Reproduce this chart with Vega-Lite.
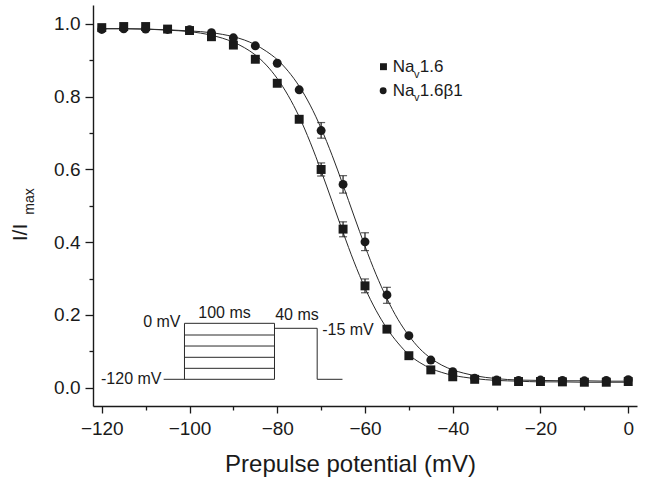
{
  "$schema": "https://vega.github.io/schema/vega-lite/v6.json",
  "width": 544,
  "height": 401,
  "autosize": {"type": "none"},
  "padding": {"left": 93, "top": 5, "right": 8, "bottom": 77},
  "background": "white",
  "config": {
    "view": {"stroke": null},
    "font": "Liberation Sans",
    "text": {"font": "Liberation Sans", "color": "#1a1a1a"}
  },
  "datasets": {
    "pts": [
      {"V": -120, "I": 0.990, "series": "Nav1.6"}, {"V": -115, "I": 0.993, "series": "Nav1.6"}, {"V": -110, "I": 0.993, "series": "Nav1.6"}, {"V": -105, "I": 0.986, "series": "Nav1.6"}, {"V": -100, "I": 0.982, "series": "Nav1.6"},
      {"V": -95, "I": 0.965, "series": "Nav1.6"}, {"V": -90, "I": 0.942, "series": "Nav1.6"}, {"V": -85, "I": 0.903, "series": "Nav1.6"}, {"V": -80, "I": 0.837, "series": "Nav1.6"}, {"V": -75, "I": 0.738, "series": "Nav1.6"},
      {"V": -70, "I": 0.600, "series": "Nav1.6"}, {"V": -65, "I": 0.436, "series": "Nav1.6"}, {"V": -60, "I": 0.280, "series": "Nav1.6"}, {"V": -55, "I": 0.161, "series": "Nav1.6"}, {"V": -50, "I": 0.088, "series": "Nav1.6"},
      {"V": -45, "I": 0.049, "series": "Nav1.6"}, {"V": -40, "I": 0.030, "series": "Nav1.6"}, {"V": -35, "I": 0.023, "series": "Nav1.6"}, {"V": -30, "I": 0.018, "series": "Nav1.6"}, {"V": -25, "I": 0.017, "series": "Nav1.6"},
      {"V": -20, "I": 0.017, "series": "Nav1.6"}, {"V": -15, "I": 0.016, "series": "Nav1.6"}, {"V": -10, "I": 0.015, "series": "Nav1.6"}, {"V": -5, "I": 0.015, "series": "Nav1.6"}, {"V": 0, "I": 0.017, "series": "Nav1.6"},
      {"V": -120, "I": 0.985, "series": "Nav1.6β1"}, {"V": -115, "I": 0.987, "series": "Nav1.6β1"}, {"V": -110, "I": 0.986, "series": "Nav1.6β1"}, {"V": -105, "I": 0.985, "series": "Nav1.6β1"}, {"V": -100, "I": 0.984, "series": "Nav1.6β1"},
      {"V": -95, "I": 0.976, "series": "Nav1.6β1"}, {"V": -90, "I": 0.962, "series": "Nav1.6β1"}, {"V": -85, "I": 0.940, "series": "Nav1.6β1"}, {"V": -80, "I": 0.892, "series": "Nav1.6β1"}, {"V": -75, "I": 0.819, "series": "Nav1.6β1"},
      {"V": -70, "I": 0.707, "series": "Nav1.6β1"}, {"V": -65, "I": 0.559, "series": "Nav1.6β1"}, {"V": -60, "I": 0.401, "series": "Nav1.6β1"}, {"V": -55, "I": 0.255, "series": "Nav1.6β1"}, {"V": -50, "I": 0.143, "series": "Nav1.6β1"},
      {"V": -45, "I": 0.076, "series": "Nav1.6β1"}, {"V": -40, "I": 0.044, "series": "Nav1.6β1"}, {"V": -35, "I": 0.026, "series": "Nav1.6β1"}, {"V": -30, "I": 0.021, "series": "Nav1.6β1"}, {"V": -25, "I": 0.020, "series": "Nav1.6β1"},
      {"V": -20, "I": 0.021, "series": "Nav1.6β1"}, {"V": -15, "I": 0.020, "series": "Nav1.6β1"}, {"V": -10, "I": 0.019, "series": "Nav1.6β1"}, {"V": -5, "I": 0.020, "series": "Nav1.6β1"}, {"V": 0, "I": 0.022, "series": "Nav1.6β1"}
    ],
    "fit": [
      {"V": -120, "I": 0.987, "series": "Nav1.6"}, {"V": -115, "I": 0.987, "series": "Nav1.6"}, {"V": -110, "I": 0.986, "series": "Nav1.6"}, {"V": -105, "I": 0.983, "series": "Nav1.6"}, {"V": -100, "I": 0.979, "series": "Nav1.6"},
      {"V": -95, "I": 0.969, "series": "Nav1.6"}, {"V": -90, "I": 0.950, "series": "Nav1.6"}, {"V": -87.5, "I": 0.935, "series": "Nav1.6"}, {"V": -85, "I": 0.915, "series": "Nav1.6"}, {"V": -82.5, "I": 0.887, "series": "Nav1.6"},
      {"V": -80, "I": 0.850, "series": "Nav1.6"}, {"V": -77.5, "I": 0.803, "series": "Nav1.6"}, {"V": -75, "I": 0.745, "series": "Nav1.6"}, {"V": -72.5, "I": 0.675, "series": "Nav1.6"}, {"V": -70, "I": 0.596, "series": "Nav1.6"},
      {"V": -67.5, "I": 0.512, "series": "Nav1.6"}, {"V": -65, "I": 0.427, "series": "Nav1.6"}, {"V": -62.5, "I": 0.346, "series": "Nav1.6"}, {"V": -60, "I": 0.274, "series": "Nav1.6"}, {"V": -57.5, "I": 0.213, "series": "Nav1.6"},
      {"V": -55, "I": 0.163, "series": "Nav1.6"}, {"V": -52.5, "I": 0.123, "series": "Nav1.6"}, {"V": -50, "I": 0.091, "series": "Nav1.6"}, {"V": -47.5, "I": 0.069, "series": "Nav1.6"}, {"V": -45, "I": 0.053, "series": "Nav1.6"},
      {"V": -42.5, "I": 0.042, "series": "Nav1.6"}, {"V": -40, "I": 0.034, "series": "Nav1.6"}, {"V": -37.5, "I": 0.029, "series": "Nav1.6"}, {"V": -35, "I": 0.025, "series": "Nav1.6"}, {"V": -30, "I": 0.020, "series": "Nav1.6"},
      {"V": -25, "I": 0.018, "series": "Nav1.6"}, {"V": -20, "I": 0.016, "series": "Nav1.6"}, {"V": -15, "I": 0.016, "series": "Nav1.6"}, {"V": -10, "I": 0.015, "series": "Nav1.6"}, {"V": -5, "I": 0.015, "series": "Nav1.6"}, {"V": 0, "I": 0.015, "series": "Nav1.6"},
      {"V": -120, "I": 0.987, "series": "Nav1.6β1"}, {"V": -115, "I": 0.987, "series": "Nav1.6β1"}, {"V": -110, "I": 0.986, "series": "Nav1.6β1"}, {"V": -105, "I": 0.984, "series": "Nav1.6β1"}, {"V": -100, "I": 0.981, "series": "Nav1.6β1"},
      {"V": -95, "I": 0.976, "series": "Nav1.6β1"}, {"V": -90, "I": 0.965, "series": "Nav1.6β1"}, {"V": -87.5, "I": 0.956, "series": "Nav1.6β1"}, {"V": -85, "I": 0.943, "series": "Nav1.6β1"}, {"V": -82.5, "I": 0.925, "series": "Nav1.6β1"},
      {"V": -80, "I": 0.902, "series": "Nav1.6β1"}, {"V": -77.5, "I": 0.870, "series": "Nav1.6β1"}, {"V": -75, "I": 0.829, "series": "Nav1.6β1"}, {"V": -72.5, "I": 0.777, "series": "Nav1.6β1"}, {"V": -70, "I": 0.713, "series": "Nav1.6β1"},
      {"V": -67.5, "I": 0.639, "series": "Nav1.6β1"}, {"V": -65, "I": 0.557, "series": "Nav1.6β1"}, {"V": -62.5, "I": 0.472, "series": "Nav1.6β1"}, {"V": -60, "I": 0.389, "series": "Nav1.6β1"}, {"V": -57.5, "I": 0.312, "series": "Nav1.6β1"},
      {"V": -55, "I": 0.245, "series": "Nav1.6β1"}, {"V": -52.5, "I": 0.188, "series": "Nav1.6β1"}, {"V": -50, "I": 0.143, "series": "Nav1.6β1"}, {"V": -47.5, "I": 0.107, "series": "Nav1.6β1"}, {"V": -45, "I": 0.081, "series": "Nav1.6β1"},
      {"V": -42.5, "I": 0.062, "series": "Nav1.6β1"}, {"V": -40, "I": 0.049, "series": "Nav1.6β1"}, {"V": -37.5, "I": 0.040, "series": "Nav1.6β1"}, {"V": -35, "I": 0.033, "series": "Nav1.6β1"}, {"V": -30, "I": 0.025, "series": "Nav1.6β1"},
      {"V": -25, "I": 0.021, "series": "Nav1.6β1"}, {"V": -20, "I": 0.020, "series": "Nav1.6β1"}, {"V": -15, "I": 0.019, "series": "Nav1.6β1"}, {"V": -10, "I": 0.019, "series": "Nav1.6β1"}, {"V": -5, "I": 0.018, "series": "Nav1.6β1"}, {"V": 0, "I": 0.018, "series": "Nav1.6β1"}
    ],
    "err": [
      {"V": -70, "I": 0.582, "I2": 0.618, "series": "Nav1.6"},
      {"V": -65, "I": 0.415, "I2": 0.456, "series": "Nav1.6"},
      {"V": -60, "I": 0.261, "I2": 0.299, "series": "Nav1.6"},
      {"V": -70, "I": 0.686, "I2": 0.729, "series": "Nav1.6β1"},
      {"V": -65, "I": 0.535, "I2": 0.583, "series": "Nav1.6β1"},
      {"V": -60, "I": 0.377, "I2": 0.426, "series": "Nav1.6β1"},
      {"V": -55, "I": 0.232, "I2": 0.276, "series": "Nav1.6β1"}
    ],
    "protocol": [
      {"V": -105.9, "V2": -80.63, "I": 0.0231, "I2": 0.0231},
      {"V": -101.15, "V2": -80.63, "I": 0.0533, "I2": 0.0533},
      {"V": -101.15, "V2": -80.63, "I": 0.0836, "I2": 0.0836},
      {"V": -101.15, "V2": -80.63, "I": 0.1146, "I2": 0.1146},
      {"V": -101.15, "V2": -80.63, "I": 0.1449, "I2": 0.1449},
      {"V": -101.15, "V2": -80.63, "I": 0.177, "I2": 0.177},
      {"V": -101.15, "V2": -101.15, "I": 0.0231, "I2": 0.177},
      {"V": -80.63, "V2": -80.63, "I": 0.0231, "I2": 0.177},
      {"V": -80.63, "V2": -70.9, "I": 0.1633, "I2": 0.1633},
      {"V": -70.9, "V2": -70.9, "I": 0.0231, "I2": 0.1633},
      {"V": -70.9, "V2": -65.13, "I": 0.0231, "I2": 0.0231}
    ],
    "protoRight": [
      {"V": -102.06, "I": 0.1793, "label": "0 mV"},
      {"V": -106.39, "I": 0.0234, "label": "-120 mV"}
    ],
    "protoCenter": [
      {"V": -92.03, "I": 0.2046, "label": "100 ms"},
      {"V": -75.5, "I": 0.199, "label": "40 ms"}
    ],
    "protoLeft": [
      {"V": -69.76, "I": 0.1587, "label": "-15 mV"}
    ],
    "legendSym": [
      {"V": -55.79, "I": 0.8826, "series": "Nav1.6"},
      {"V": -55.86, "I": 0.8163, "series": "Nav1.6β1"}
    ],
    "legendMain": [
      {"V": -53.67, "I": 0.8804, "label": "Na"},
      {"V": -53.67, "I": 0.8163, "label": "Na"},
      {"V": -47.5, "I": 0.8804, "label": "1.6"},
      {"V": -47.5, "I": 0.8163, "label": "1.6β1"}
    ],
    "legendSub": [
      {"V": -48.85, "I": 0.8598, "label": "v"},
      {"V": -48.85, "I": 0.7957, "label": "v"}
    ],
    "ySub": [
      {"V": -136.4, "I": 0.512, "label": "max"}
    ]
  },
  "encoding": {
    "x": {
      "field": "V", "type": "quantitative",
      "scale": {"domain": [-122, 2], "nice": false, "zero": false},
      "axis": {
        "title": "Prepulse potential (mV)",
        "values": [-120, -110, -100, -90, -80, -70, -60, -50, -40, -30, -20, -10, 0],
        "labelExpr": "datum.value % 20 == 0 ? (datum.value < 0 ? '−' + abs(datum.value) : '' + datum.value) : ''",
        "tickSize": {"condition": {"test": "datum.value % 20 == 0", "value": 7}, "value": 4},
        "grid": false,
        "labelFont": "Liberation Sans", "labelFontSize": 19, "labelColor": "#1a1a1a", "labelPadding": 6,
        "labelFlush": false, "labelOverlap": false,
        "titleFont": "Liberation Sans", "titleFontSize": 24, "titleFontWeight": "normal", "titleColor": "#1a1a1a", "titlePadding": 14,
        "titleX": 257, "titleAlign": "center",
        "domainColor": "#1a1a1a", "domainWidth": 1.4, "tickColor": "#1a1a1a", "tickWidth": 1.3
      }
    },
    "y": {
      "field": "I", "type": "quantitative",
      "scale": {"domain": [-0.0503, 1.0522], "nice": false, "zero": false},
      "axis": {
        "title": "I/I",
        "values": [0, 0.1, 0.2, 0.3, 0.4, 0.5, 0.6, 0.7, 0.8, 0.9, 1.0],
        "labelExpr": "round(datum.value * 10) % 2 == 0 ? format(datum.value, '.1f') : ''",
        "tickSize": {"condition": {"test": "round(datum.value * 10) % 2 == 0", "value": 8}, "value": 4},
        "grid": false,
        "labelFont": "Liberation Sans", "labelFontSize": 19, "labelColor": "#1a1a1a", "labelPadding": 5,
        "labelFlush": false, "labelOverlap": false,
        "titleFont": "Liberation Sans", "titleFontSize": 21, "titleFontWeight": "normal", "titleColor": "#1a1a1a",
        "titleX": -73, "titleY": 227, "titleAngle": 270, "titleAlign": "center", "titleBaseline": "middle",
        "domainColor": "#1a1a1a", "domainWidth": 1.4, "tickColor": "#1a1a1a", "tickWidth": 1.3
      }
    }
  },
  "layer": [
    {
      "data": {"name": "protocol"},
      "mark": {"type": "rule", "color": "#2a2a2a", "strokeWidth": 1},
      "encoding": {"x2": {"field": "V2"}, "y2": {"field": "I2"}}
    },
    {
      "data": {"name": "fit"},
      "mark": {"type": "line", "color": "#2a2a2a", "strokeWidth": 1, "interpolate": "monotone"},
      "encoding": {"detail": {"field": "series", "type": "nominal"}}
    },
    {
      "data": {"name": "err"},
      "mark": {"type": "errorbar", "ticks": true, "color": "#1a1a1a", "size": 8, "thickness": 1.2},
      "encoding": {"y2": {"field": "I2"}, "detail": {"field": "series", "type": "nominal"}}
    },
    {
      "data": {"name": "pts"},
      "mark": {"type": "point", "filled": true, "opacity": 1, "color": "#1a1a1a", "size": 80},
      "encoding": {
        "shape": {"field": "series", "type": "nominal", "scale": {"domain": ["Nav1.6", "Nav1.6β1"], "range": ["square", "circle"]}, "legend": null}
      }
    },
    {
      "data": {"name": "legendSym"},
      "mark": {"type": "point", "filled": true, "opacity": 1, "color": "#1a1a1a", "size": 48},
      "encoding": {
        "shape": {"field": "series", "type": "nominal", "legend": null}
      }
    },
    {
      "data": {"name": "legendMain"},
      "mark": {"type": "text", "align": "left", "baseline": "middle", "fontSize": 17, "font": "Liberation Sans"},
      "encoding": {"text": {"field": "label"}}
    },
    {
      "data": {"name": "legendSub"},
      "mark": {"type": "text", "align": "left", "baseline": "middle", "fontSize": 11, "font": "Liberation Sans"},
      "encoding": {"text": {"field": "label"}}
    },
    {
      "data": {"name": "protoRight"},
      "mark": {"type": "text", "align": "right", "baseline": "middle", "fontSize": 16, "font": "Liberation Sans"},
      "encoding": {"text": {"field": "label"}}
    },
    {
      "data": {"name": "protoCenter"},
      "mark": {"type": "text", "align": "center", "baseline": "middle", "fontSize": 16, "font": "Liberation Sans"},
      "encoding": {"text": {"field": "label"}}
    },
    {
      "data": {"name": "protoLeft"},
      "mark": {"type": "text", "align": "left", "baseline": "middle", "fontSize": 16, "font": "Liberation Sans"},
      "encoding": {"text": {"field": "label"}}
    },
    {
      "data": {"name": "ySub"},
      "mark": {"type": "text", "align": "center", "baseline": "middle", "fontSize": 14, "angle": 270, "font": "Liberation Sans"},
      "encoding": {"text": {"field": "label"}}
    }
  ]
}
